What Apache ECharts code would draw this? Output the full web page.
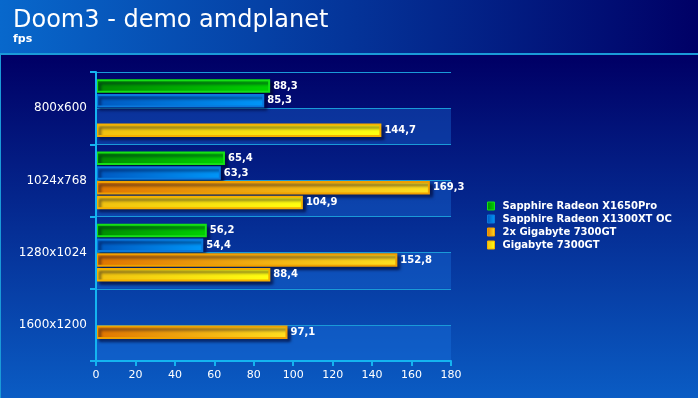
<!DOCTYPE html>
<html>
<head>
<meta charset="utf-8">
<script src="https://cdn.jsdelivr.net/npm/echarts@6/dist/echarts.min.js"></script>
<style>
  html, body { margin: 0; padding: 0; background: #000066; }
  #chart { width: 698px; height: 398px; }
</style>
</head>
<body>
<div id="chart"></div>
<script>
var categories = ['800x600', '1024x768', '1280x1024', '1600x1200'];
var seriesNames = ['Sapphire Radeon X1650Pro', 'Sapphire Radeon X1300XT OC', '2x Gigabyte 7300GT', 'Gigabyte 7300GT'];
var x1650pro = [88.3, 65.4, 56.2, '-'];
var x1300xt = [85.3, 63.3, 54.4, '-'];
var sli7300 = ['-', 169.3, 152.8, 97.1];
var gt7300 = [144.7, 104.9, 88.4, '-'];
var xTicks = {min: 0, max: 180, step: 20};
// half-category bands behind the bars
var bands = ['a', 'b', 'c', 'd', 'e', 'f', 'g', 'h'];

function grad(c1, c2) {
  return new echarts.graphic.LinearGradient(0, 0, 1, 0, [
    {offset: 0, color: c1},
    {offset: 1, color: c2}
  ]);
}

function barSeries(name, data, c1, c2, border) {
  return {
    name: name,
    type: 'bar',
    yAxisIndex: 0,
    data: data,
    barCategoryGap: '20%',
    barGap: '10%',
    itemStyle: {
      color: grad(c1, c2),
      borderColor: border,
      borderWidth: 2,
      shadowColor: 'rgba(0,0,40,0.6)',
      shadowOffsetX: 3,
      shadowOffsetY: 3,
      shadowBlur: 3
    },
    label: {
      show: true,
      position: 'right',
      distance: 3,
      color: '#fff',
      fontFamily: 'DejaVu Sans',
      fontWeight: 'bold',
      fontSize: 10,
      formatter: function (p) {
        return String(p.value).replace('.', ',');
      }
    }
  };
}

var chart = echarts.init(document.getElementById('chart'));
chart.setOption({
  backgroundColor: new echarts.graphic.LinearGradient(0, 0, 0, 1, [
    {offset: 0, color: '#000066'},
    {offset: 0.15, color: '#000066'},
    {offset: 1, color: '#0a5cc4'}
  ]),
  animation: false,
  graphic: [
    {
      type: 'rect',
      z: -10,
      shape: {x: 0, y: 0, width: 698, height: 53},
      style: {fill: grad('#0868cc', '#000066')}
    },
    {
      type: 'rect',
      z: -9,
      shape: {x: 0, y: 53, width: 698, height: 2},
      style: {fill: '#1a9ad8'}
    },
    {
      type: 'rect',
      z: -9,
      shape: {x: 0, y: 53, width: 1, height: 345},
      style: {fill: '#1a9ad8'}
    }
  ],
  title: {
    text: 'Doom3 - demo amdplanet',
    subtext: 'fps',
    left: 8,
    top: 4,
    itemGap: 1,
    textStyle: {
      color: '#fff',
      fontFamily: 'DejaVu Sans',
      fontWeight: 'normal',
      fontSize: 24
    },
    subtextStyle: {
      color: '#fff',
      fontFamily: 'DejaVu Sans',
      fontWeight: 'bold',
      fontSize: 11
    }
  },
  legend: {
    orient: 'vertical',
    left: 482,
    top: 196,
    itemWidth: 7,
    itemHeight: 8,
    itemGap: 3,
    icon: 'rect',
    data: seriesNames,
    itemStyle: {borderWidth: 1, shadowBlur: 0, shadowOffsetX: 0, shadowOffsetY: 0},
    textStyle: {
      color: '#fff',
      fontFamily: 'DejaVu Sans',
      fontWeight: 'bold',
      fontSize: 10,
      padding: [0, 0, 0, 3]
    }
  },
  grid: {
    left: 96,
    right: 247,
    top: 72,
    bottom: 37
  },
  xAxis: {
    type: 'value',
    min: xTicks.min,
    max: xTicks.max,
    interval: xTicks.step,
    axisLine: {show: true, lineStyle: {color: '#14b4f0', width: 2}},
    axisTick: {show: true, length: 5, lineStyle: {color: '#14b4f0', width: 2}},
    splitLine: {show: false},
    axisLabel: {
      color: '#fff',
      fontFamily: 'DejaVu Sans',
      fontSize: 11,
      margin: 9
    }
  },
  yAxis: [
    {
      type: 'category',
      inverse: true,
      data: categories,
      axisLine: {show: true, lineStyle: {color: '#14b4f0', width: 2}},
      axisTick: {show: true, length: 6, lineStyle: {color: '#14b4f0', width: 2}},
      splitLine: {show: false},
      axisLabel: {
        color: '#fff',
        fontFamily: 'DejaVu Sans',
        fontSize: 12,
        margin: 9
      },
      z: 5
    },
    {
      type: 'category',
      inverse: true,
      data: bands,
      axisLine: {show: false},
      axisTick: {show: false},
      axisLabel: {show: false},
      splitLine: {show: true, lineStyle: {color: '#1a9ad8', width: 1}},
      splitArea: {show: true, areaStyle: {color: ['rgba(0,0,0,0)', 'rgba(30,120,230,0.35)']}}
    }
  ],
  series: [
    barSeries(seriesNames[0], x1650pro, '#008a00', '#00d200', '#16e016'),
    barSeries(seriesNames[1], x1300xt, '#0058c0', '#0096f8', '#0a78dc'),
    barSeries(seriesNames[2], sli7300, '#e07400', '#ffe020', '#f0a000'),
    barSeries(seriesNames[3], gt7300, '#f0c010', '#ffff10', '#f5b000')
  ]
});
</script>
</body>
</html>
